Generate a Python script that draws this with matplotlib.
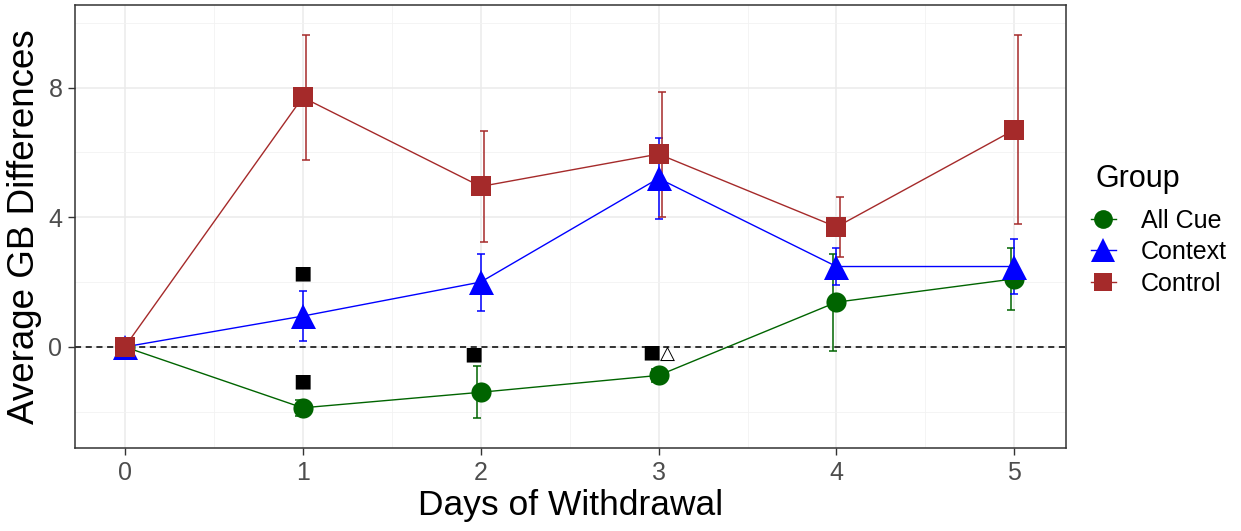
import numpy as np
import matplotlib.pyplot as plt
from matplotlib.lines import Line2D

plt.rcParams['font.family'] = ['Liberation Sans', 'DejaVu Sans']

# data
days = [0, 1, 2, 3, 4, 5]
groups = ['All Cue', 'Context', 'Control']

allcue_mean = [0.0, -1.88, -1.4, -0.88, 1.38, 2.1]
allcue_err = [0.0, 0.25, 0.8, 0.2, 1.5, 0.95]
context_mean = [0.0, 0.95, 2.0, 5.2, 2.48, 2.48]
context_err = [0.2, 0.77, 0.88, 1.25, 0.57, 0.85]
control_mean = [0.0, 7.7, 4.95, 5.95, 3.7, 6.7]
control_err = [0.0, 1.93, 1.7, 1.93, 0.93, 2.92]

# significance symbols placed on the plot
sig_x = [1.0, 1.0, 1.96, 2.96]
sig_y = [2.28, -1.05, -0.22, -0.17]
sig_label = ['■', '■', '■', '■']
tri_x = [3.05]
tri_y = [-0.2]
tri_label = ['△']

colors = {'All Cue': '#006400', 'Context': '#0000FF', 'Control': '#A52A2A'}
markers = {'All Cue': 'o', 'Context': '^', 'Control': 's'}
msize = {'All Cue': 14.5, 'Context': 18, 'Control': 14.5}
dodge = {'All Cue': -0.02, 'Context': 0.0, 'Control': 0.02}
series = {
    'All Cue': (allcue_mean, allcue_err),
    'Context': (context_mean, context_err),
    'Control': (control_mean, control_err),
}

fig = plt.figure(figsize=(12.41, 5.31), dpi=100)
ax = fig.add_axes([0.0604, 0.1563, 0.7986, 0.8343])

ax.axhline(0, color='black', lw=1.1, ls=(0, (4, 3)), zorder=2)

for g in groups:
    m, e = series[g]
    x = np.array(days, dtype=float)
    ax.errorbar(x + dodge[g], m, yerr=e, fmt='none', ecolor=colors[g],
                elinewidth=1.1, capsize=3, capthick=1.1, zorder=3)
    ax.plot(x, m, color=colors[g], lw=1.0, marker=markers[g],
            markersize=msize[g], markeredgewidth=0, zorder=4)

for xx, yy, s in zip(sig_x, sig_y, sig_label):
    ax.text(xx, yy, s, ha='center', va='center', fontsize=14,
            family=['DejaVu Sans'], zorder=5)
for xx, yy, s in zip(tri_x, tri_y, tri_label):
    ax.text(xx, yy, s, ha='center', va='center', fontsize=14,
            family=['DejaVu Sans'], zorder=5)

ax.set_xlim(-0.28, 5.29)
ax.set_ylim(-3.12, 10.55)
ax.set_xticks(days)
ax.set_yticks([0, 4, 8])
ax.set_xticks([0.5, 1.5, 2.5, 3.5, 4.5], minor=True)
ax.set_yticks([-2, 2, 6, 10], minor=True)
ax.grid(which='major', color='#EBEBEB', lw=1.1)
ax.grid(which='minor', color='#F2F2F2', lw=0.6)
ax.set_axisbelow(True)
ax.tick_params(which='major', direction='out', length=5, width=1,
               color='#333333', labelsize=18, labelcolor='#4D4D4D', pad=4)
ax.tick_params(which='minor', length=0)
for sp in ax.spines.values():
    sp.set_color('#333333')
    sp.set_linewidth(1.1)

ax.set_xlabel('Days of Withdrawal', fontsize=25.5, labelpad=3)
ax.set_ylabel('Average GB Differences', fontsize=26.5, labelpad=5)

# legend
fig.text(0.883, 0.663, 'Group', fontsize=22, ha='left', va='center')
handles = [Line2D([], [], color=colors[g], marker=markers[g],
                  markersize=msize[g] - 1, lw=1.0, markeredgewidth=0)
           for g in groups]
fig.legend(handles, groups, loc='upper left',
           bbox_to_anchor=(0.879, 0.607), frameon=False, fontsize=18,
           handlelength=1.0, handletextpad=1.0,
           labelspacing=0.3, borderaxespad=0, borderpad=0)

fig.savefig('out.png', dpi=100)
